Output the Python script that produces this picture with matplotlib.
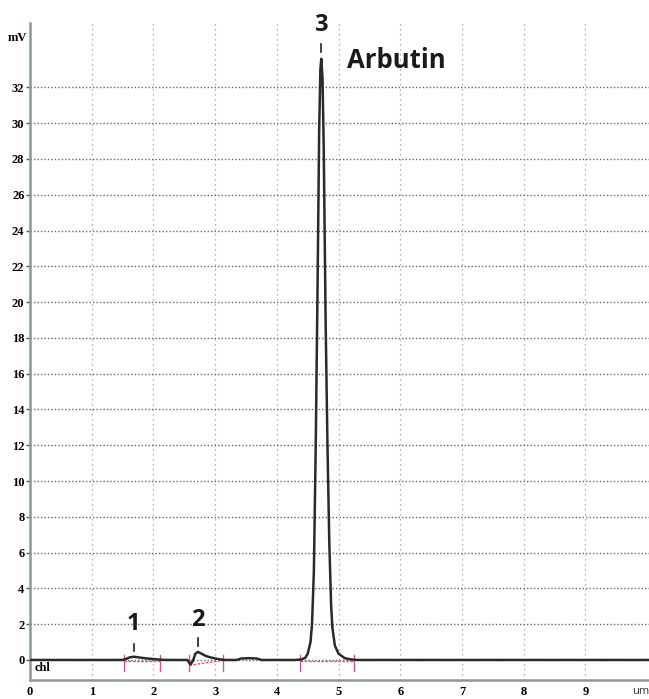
import numpy as np
import matplotlib.pyplot as plt

# chromatogram trace (time in min, signal in mV)
time_min = [0.0, 1.50, 1.55, 1.62, 1.68, 1.75, 1.85, 2.00, 2.10, 2.20,
            2.55, 2.60, 2.64, 2.68, 2.72, 2.78, 2.85, 2.95, 3.05, 3.15,
            3.35, 3.42, 3.55, 3.68, 3.75,
            4.30, 4.40, 4.46, 4.50, 4.545, 4.57, 4.60, 4.63, 4.66, 4.685,
            4.705, 4.72, 4.74, 4.76, 4.79, 4.82, 4.85, 4.88, 4.90, 4.94,
            5.00, 5.10, 5.20, 5.30, 10.03]
signal_mv = [0.0, 0.0, 0.05, 0.15, 0.18, 0.15, 0.10, 0.05, 0.02, 0.0,
             0.0, -0.25, -0.05, 0.35, 0.45, 0.35, 0.22, 0.12, 0.05, 0.0,
             0.0, 0.08, 0.10, 0.08, 0.0,
             0.0, 0.03, 0.12, 0.35, 1.0, 2.0, 5.0, 12.0, 21.0, 29.5,
             33.0, 33.6, 32.5, 28.5, 19.0, 12.0, 6.5, 3.0, 1.8, 0.8,
             0.35, 0.10, 0.03, 0.0, 0.0]

# integration baselines (start, end, start level, end level)
base_start = [1.53, 2.58, 4.38]
base_end = [2.10, 3.13, 5.25]
base_y0 = [-0.05, -0.3, -0.05]
base_y1 = [-0.05, -0.02, -0.05]

peak_labels = ["1", "2", "3"]
peak_time = [1.68, 2.72, 4.72]
peak_top = [0.2, 0.5, 33.7]
label_y = [2.0, 2.25, 35.5]

x_ticks = list(range(0, 10))
y_ticks = list(range(0, 33, 2))

fig = plt.figure(figsize=(6.49, 6.99), dpi=100)
ax = fig.add_axes([30 / 649, 19 / 699, 619 / 649, 657 / 699])
ax.set_xlim(0, 10.03)
ax.set_ylim(-1.12, 35.6)

for t in x_ticks[1:]:
    ax.axvline(t, color='#999999', lw=0.9, ls=(0, (1, 3)), zorder=1)
for v in y_ticks:
    ax.axhline(v, color='#666666', lw=1.0, ls=(0, (1, 1.5)), zorder=1)

# integration markers
pink = '#e0508a'
for s, e, y0, y1 in zip(base_start, base_end, base_y0, base_y1):
    ax.plot([s, e], [y0, y1], color=pink, lw=1.0, ls=(0, (2, 1)), zorder=2)
    ax.plot([s, s], [-0.6, 0.3], color=pink, lw=1.0, zorder=2)
    ax.plot([e, e], [-0.6, 0.3], color=pink, lw=1.0, zorder=2)

ax.plot(time_min, signal_mv, color='#2a2a2a', lw=1.8, zorder=3)

# peak markers and labels
for lab, t, top, ly in zip(peak_labels, peak_time, peak_top, label_y):
    ax.plot([t, t], [top + 0.3, top + 0.7], color='#222222', lw=1.2)
    ax.text(t, ly, lab, ha='center', va='center', fontsize=17,
            fontweight='bold', family='Open Sans', color='#1a1a1a')
ax.text(5.93, 33.5, "Arbutin", ha='center', va='center', fontsize=18.5,
        fontweight='bold', family='Open Sans', color='#1a1a1a')
ax.text(0.08, -0.45, "chl", ha='left', va='center', fontsize=9,
        fontweight='bold', family='Liberation Serif')

for side in ['top', 'right']:
    ax.spines[side].set_visible(False)
for side in ['left', 'bottom']:
    ax.spines[side].set_color('#8a9a9a')
    ax.spines[side].set_linewidth(1.8)

ax.set_xticks(x_ticks)
ax.set_yticks(y_ticks)
ax.tick_params(axis='x', length=0, pad=4)
ax.tick_params(axis='y', length=3, width=1, color='#555555', pad=1)
for lbl in ax.get_xticklabels() + ax.get_yticklabels():
    lbl.set_family('Liberation Serif')
    lbl.set_fontweight('bold')
    lbl.set_fontsize(9)

fig.text(8 / 649, 1 - 38 / 699, "mV", fontsize=9, fontweight='bold',
         family='Liberation Serif', va='center', ha='left')
fig.text(632 / 649, 1 - 692 / 699, "um", fontsize=8, family='Open Sans',
         va='center', ha='left', color='#333333')

fig.savefig('out.png', dpi=100)
